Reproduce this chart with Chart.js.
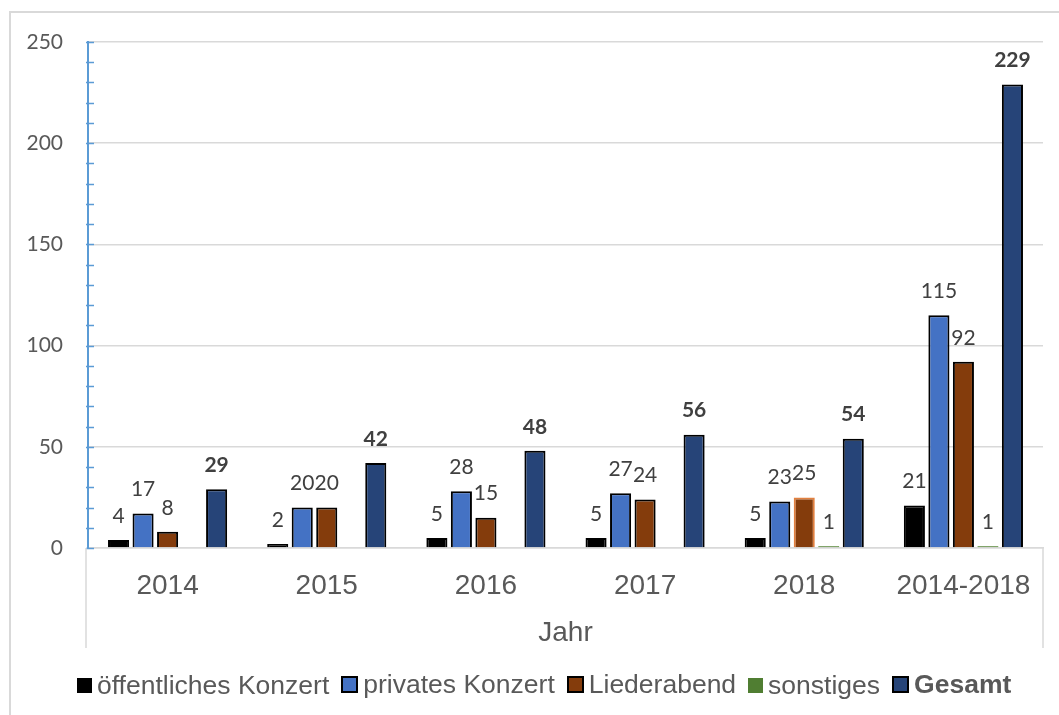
<!DOCTYPE html>
<html lang="de">
<head>
<meta charset="UTF-8">
<title>Konzerte nach Jahr</title>
<script src="https://cdn.jsdelivr.net/npm/chart.js"></script>
<style>
    body { margin: 0; background: #fff; }
    .wrap { position: relative; width: 1059px; height: 715px; }
    #legend { position: absolute; left: 77px; top: 669px; white-space: nowrap;
              font-family: "Liberation Sans", Arial, sans-serif; font-size: 26.5px; color: #595959; }
    .item { display: inline-flex; align-items: center; margin-right: 12px; }
    .box { width: 13px; height: 13px; margin-right: 5px; }
</style>
</head>
<body>
<div class="wrap">
    <canvas id="chart" width="1059" height="715"></canvas>
    <div id="legend"></div>
</div>
<script>
const categories = ['2014', '2015', '2016', '2017', '2018', '2014-2018'];
const oeffentlich = [4, 2, 5, 5, 5, 21];
const privat = [17, 20, 28, 27, 23, 115];
const lieder = [8, 20, 15, 24, 25, 92];
const sonstiges = [null, null, null, null, 1, 1];
const gesamt = [29, 42, 48, 56, 54, 229];
const seriesNames = ['öffentliches Konzert', 'privates Konzert', 'Liederabend', 'sonstiges', 'Gesamt'];

const colors = ['#000000', '#4472C4', '#843C0C', '#507E32', '#264478'];

const datasets = [
    { label: seriesNames[0], data: oeffentlich, backgroundColor: colors[0], borderColor: '#000', borderWidth: 2 },
    { label: seriesNames[1], data: privat, backgroundColor: colors[1], borderColor: '#000', borderWidth: 2 },
    { label: seriesNames[2], data: lieder, backgroundColor: colors[2],
      borderColor: ['#000', '#000', '#000', '#000', '#E2803F', '#000'], borderWidth: 2 },
    { label: seriesNames[3], data: sonstiges, backgroundColor: colors[3], borderColor: '#6A9A4A', borderWidth: 1 },
    { label: seriesNames[4], data: gesamt, backgroundColor: colors[4], borderColor: '#000', borderWidth: 2, bold: true }
];

const deco = {
    id: 'deco',
    beforeDraw(chart) {
        const ctx = chart.ctx;
        ctx.save();
        ctx.strokeStyle = '#d9d9d9';
        ctx.lineWidth = 2;
        ctx.beginPath();
        ctx.moveTo(10, 715);
        ctx.lineTo(10, 12);
        ctx.lineTo(1059, 12);
        ctx.stroke();
        ctx.restore();
    },
    afterDatasetsDraw(chart) {
        const ctx = chart.ctx;
        const area = chart.chartArea;
        const y = chart.scales.y;
        ctx.save();
        // small ticks on the inside of the y axis
        ctx.strokeStyle = '#5B9BD5';
        ctx.lineWidth = 1.5;
        for (let v = 0; v <= 250; v += 10) {
            const py = Math.round(y.getPixelForValue(v)) + 0.5;
            ctx.beginPath();
            ctx.moveTo(area.left - 2, py);
            ctx.lineTo(area.left + 6, py);
            ctx.stroke();
        }
        // frame lines of the category axis
        ctx.strokeStyle = '#d9d9d9';
        ctx.lineWidth = 1.5;
        [area.left - 2, area.right].forEach(x => {
            ctx.beginPath();
            ctx.moveTo(x, area.bottom);
            ctx.lineTo(x, area.bottom + 100);
            ctx.stroke();
        });
        // value labels
        ctx.fillStyle = '#404040';
        ctx.textAlign = 'center';
        ctx.textBaseline = 'middle';
        chart.data.datasets.forEach((ds, i) => {
            const meta = chart.getDatasetMeta(i);
            ctx.font = (ds.bold ? 'bold ' : '') + '21px Lato';
            meta.data.forEach((el, j) => {
                const val = ds.data[j];
                if (val === null) return;
                ctx.fillText(String(val), el.x, el.y - 24);
            });
        });
        ctx.restore();
    }
};

new Chart(document.getElementById('chart'), {
    type: 'bar',
    data: { labels: categories, datasets: datasets },
    plugins: [deco],
    options: {
        responsive: false,
        animation: false,
        layout: { padding: { left: 0, right: 16, top: 42, bottom: 65 } },
        datasets: { bar: { categoryPercentage: 0.77, barPercentage: 0.86 } },
        plugins: { legend: { display: false }, tooltip: { enabled: false } },
        scales: {
            x: {
                grid: { display: false },
                border: { display: true, color: '#d9d9d9', width: 1.5 },
                ticks: { color: '#595959', padding: 13, font: { family: 'Liberation Sans', size: 28 } },
                title: { display: true, text: 'Jahr', color: '#595959', padding: { top: 0, bottom: 0 },
                         font: { family: 'Liberation Sans', size: 28 } },
                afterFit(scale) { scale.height = 102; }
            },
            y: {
                min: 0,
                max: 250,
                ticks: {
                    stepSize: 10,
                    autoSkip: false,
                    padding: 25,
                    color: '#595959',
                    font: { family: 'Lato', size: 21 },
                    callback: v => (v % 50 === 0 ? v : '')
                },
                grid: {
                    drawTicks: false,
                    lineWidth: 1.5,
                    color: ctx => (ctx.tick && ctx.tick.value % 50 === 0 ? '#d9d9d9' : 'rgba(0,0,0,0)')
                },
                border: { color: '#5B9BD5', width: 2 },
                afterFit(scale) { scale.width = 88; }
            }
        }
    }
});

// legend as html so "Gesamt" can be bold
const legend = document.getElementById('legend');
datasets.forEach((ds, i) => {
    const item = document.createElement('span');
    item.className = 'item';
    const box = document.createElement('span');
    box.className = 'box';
    box.style.background = colors[i];
    box.style.border = i === 3 ? '1px solid ' + colors[3] : '1px solid #000';
    if (i === 1 || i === 2 || i === 4) box.style.border = '2px solid #000';
    const text = document.createElement('span');
    text.textContent = ds.label;
    if (ds.bold) text.style.fontWeight = 'bold';
    item.appendChild(box);
    item.appendChild(text);
    legend.appendChild(item);
});
</script>
</body>
</html>
